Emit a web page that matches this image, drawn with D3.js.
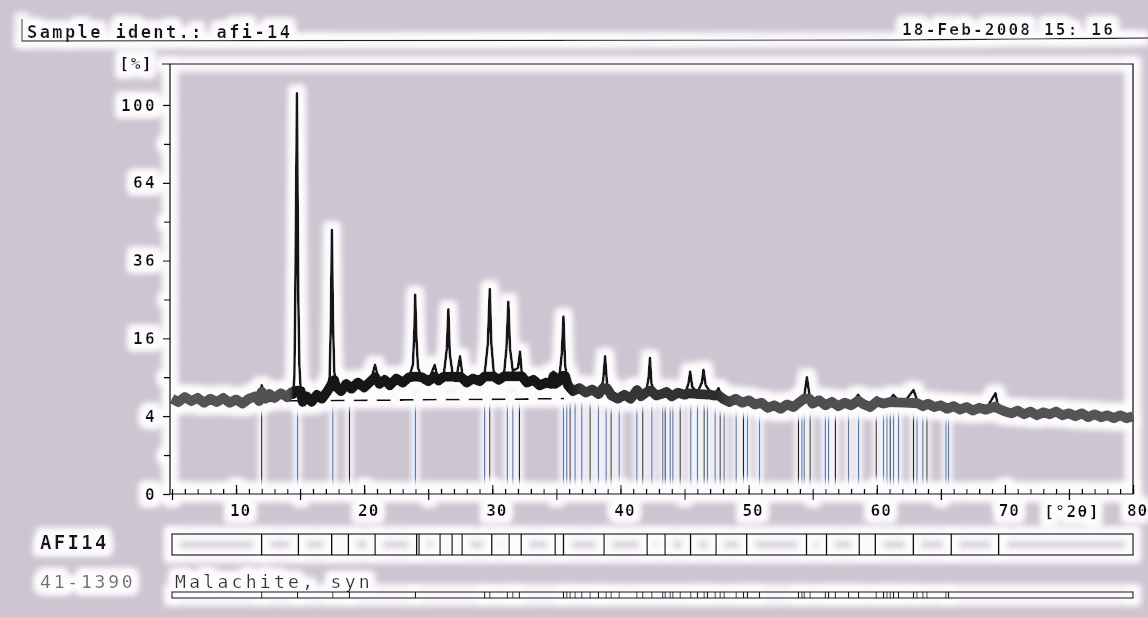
<!DOCTYPE html>
<html>
<head>
<meta charset="utf-8">
<script src="https://cdn.jsdelivr.net/npm/d3@7"></script>
<style>
  body { margin: 0; background: #cdc6d2; overflow: hidden; }
  text { font-family: "DejaVu Sans Mono", monospace; }
</style>
</head>
<body>
<script>
// measured scan, [2theta in deg, intensity in %]
const scan = [
  [5.0, 6.0], [5.5, 5.6], [6.0, 6.2], [6.5, 5.7], [7.0, 6.1], [7.5, 5.5], [8.0, 6.0], [8.5, 5.6],
  [9.0, 6.1], [9.5, 5.5], [10.0, 5.9], [10.5, 5.4], [11.0, 6.0], [11.5, 6.3], [11.8, 5.7], [12.0, 7.8],
  [12.3, 6.0], [12.6, 6.6], [13.0, 6.1], [13.5, 6.7], [14.0, 6.2], [14.3, 6.8], [14.45, 6.6],
  [14.55, 9], [14.62, 25], [14.69, 60], [14.75, 106], [14.8, 60], [14.86, 25], [14.94, 11], [15.05, 7],
  [15.2, 5.6], [15.5, 6.3], [15.9, 5.6], [16.3, 6.5], [16.7, 6.0], [17.1, 6.9],
  [17.3, 9], [17.4, 20], [17.48, 46], [17.56, 20], [17.66, 10], [17.8, 7.6],
  [18.2, 7.0], [18.6, 8.0], [19.0, 7.3], [19.5, 8.2], [20.0, 7.5], [20.5, 8.4], [20.85, 11],
  [21.2, 8.0], [21.6, 8.6], [22.0, 7.8], [22.5, 8.8], [23.0, 8.2], [23.5, 9.0],
  [23.8, 11], [23.92, 18], [23.98, 26.2], [24.06, 17], [24.2, 10.5], [24.5, 9.0], [25.0, 8.4],
  [25.5, 11], [25.8, 8.5], [26.2, 9.2], [26.45, 14], [26.57, 22.5], [26.68, 13], [26.9, 9.5],
  [27.2, 9.0], [27.48, 12.5], [27.7, 8.8], [28.0, 8.2], [28.5, 8.8], [29.0, 8.4], [29.4, 9.5],
  [29.65, 15], [29.8, 27.7], [29.92, 15], [30.1, 10], [30.5, 8.6], [30.9, 9.2],
  [31.1, 14], [31.25, 24.4], [31.38, 14], [31.6, 10], [32.0, 10.5], [32.16, 13.4], [32.3, 9.6],
  [32.7, 8.2], [33.2, 8.6], [33.7, 7.8], [34.2, 8.2], [34.6, 8.0], [34.77, 9.9], [34.9, 8.0],
  [35.2, 8.4], [35.42, 13], [35.55, 20.8], [35.68, 11], [35.9, 7.8], [36.3, 7.0], [36.8, 7.4],
  [37.3, 6.8], [37.8, 7.2], [38.3, 6.6], [38.65, 8.5], [38.8, 12.5], [38.95, 8.0], [39.3, 6.4],
  [39.8, 6.0], [40.3, 6.5], [40.8, 6.0], [41.28, 7.6], [41.6, 6.3], [42.0, 6.8], [42.2, 9.0],
  [42.3, 12.2], [42.42, 8.0], [42.8, 6.4], [43.2, 6.6], [43.6, 7.4], [44.0, 6.3], [44.5, 6.8],
  [45.0, 6.5], [45.3, 8.0], [45.44, 9.9], [45.6, 7.6], [46.0, 6.8], [46.35, 8.2], [46.48, 10.2],
  [46.65, 7.8], [47.0, 6.9], [47.3, 6.4], [47.65, 7.4], [48.0, 6.0], [48.5, 5.6], [49.0, 6.0],
  [49.5, 5.5], [50.0, 5.8], [50.5, 5.3], [51.0, 5.5], [51.5, 4.9], [52.0, 5.2], [52.5, 4.8],
  [53.0, 5.3], [53.5, 5.0], [54.0, 5.6], [54.35, 6.4], [54.55, 9.0], [54.75, 6.5], [55.0, 5.4],
  [55.5, 5.8], [56.0, 5.2], [56.5, 5.6], [57.0, 5.1], [57.5, 5.5], [58.0, 5.2], [58.55, 6.5],
  [59.0, 5.3], [59.5, 5.0], [60.0, 6.2], [60.5, 5.4], [61.0, 5.8], [61.3, 6.5], [61.8, 5.6],
  [62.3, 5.9], [62.87, 7.15], [63.2, 5.6], [63.6, 5.1], [64.0, 5.4], [64.5, 5.0], [65.0, 5.2],
  [65.5, 4.8], [66.0, 5.1], [66.5, 4.7], [67.0, 5.0], [67.5, 4.6], [68.0, 4.9], [68.5, 4.7],
  [69.27, 6.7], [69.5, 4.8], [70.0, 4.5], [70.5, 4.3], [71.0, 4.6], [71.5, 4.2], [72.0, 4.5],
  [72.5, 4.1], [73.0, 4.4], [73.5, 4.2], [74.0, 4.5], [74.5, 4.1], [75.0, 4.3], [75.5, 4.0],
  [76.0, 4.3], [76.5, 3.9], [77.0, 4.2], [77.5, 3.9], [78.0, 4.1], [78.5, 3.8], [79.0, 4.1],
  [79.5, 3.8], [80.0, 4.0]
];

// dashed background line
const background = [[12.0, 5.7], [35.6, 6.0]];

// 41-1390 malachite reference lines (2theta)
const refSticks = [12.0, 14.8, 17.55, 18.85, 24.0, 29.4, 29.8, 31.17, 31.6, 32.11, 35.55, 35.81,
  36.07, 36.46, 36.98, 37.63, 38.28, 38.88, 39.27, 39.9, 41.28, 41.74, 42.45, 43.3, 43.49, 43.88,
  44.09, 44.66, 45.49, 46.01, 46.53, 46.79, 47.39, 47.78, 48.09, 49.03, 49.6, 49.91, 50.85, 53.89,
  54.16, 54.34, 54.8, 55.99, 56.24, 56.77, 57.8, 58.58, 59.96, 60.53, 60.8, 61.05, 61.31, 61.7,
  62.87, 63.14, 63.6, 63.92, 65.4, 65.6];
const stickTop = 5.6;

// AFI14 peak markers
const sampleMarks = [12.0, 14.86, 17.47, 18.76, 20.85, 24.1, 24.28, 25.92, 26.86, 27.64, 29.96,
  31.31, 32.25, 34.9, 35.55, 38.72, 42.08, 43.48, 45.47, 47.46, 49.86, 54.52, 56.08, 58.63, 59.88,
  62.85, 65.81, 69.52];

const yTicks = [0, 4, 16, 36, 64, 100];
const yMinor = [1, 9, 25, 49, 81];
const xLabels = [10, 20, 30, 40, 50, 60, 70, 80];

const sampleIdent = "Sample ident.: afi-14";
const dateText = "18-Feb-2008 15: 16";
const sampleName = "AFI14";
const cardNo = "41-1390";
const cardName = "Malachite, syn";

const width = 1148;
const height = 617;

const x = d3.scaleLinear().domain([5, 80]).range([172, 1133]);
const y = d3.scaleSqrt().domain([0, 121]).range([494, 66]);
const plotTop = 64, plotLeft = 170;

// height up to which the trace is drawn as a thick noisy band
const bandCap = d3.scaleLinear()
    .domain([5, 14.3, 17.2, 17.8, 36, 37, 48, 56, 70, 80])
    .range([6.6, 7.0, 7.2, 9.0, 9.2, 7.6, 6.4, 5.9, 5.0, 4.5]);

const svg = d3.select("body").append("svg")
    .attr("width", width).attr("height", height);

const defs = svg.append("defs");
function halo(id, r, blur, op) {
    const f = defs.append("filter").attr("id", id)
        .attr("filterUnits", "userSpaceOnUse")
        .attr("x", 0).attr("y", 0).attr("width", width).attr("height", height);
    f.append("feMorphology").attr("in", "SourceAlpha").attr("operator", "dilate")
        .attr("radius", r).attr("result", "fat");
    f.append("feGaussianBlur").attr("in", "fat").attr("stdDeviation", blur).attr("result", "soft");
    f.append("feFlood").attr("flood-color", "#fdfbfd").attr("flood-opacity", op);
    f.append("feComposite").attr("in2", "soft").attr("operator", "in").attr("result", "glow");
    const m = f.append("feMerge");
    m.append("feMergeNode").attr("in", "glow");
    m.append("feMergeNode").attr("in", "glow");
    m.append("feMergeNode").attr("in", "SourceGraphic");
}
halo("halo", 6, 3, 1);
halo("halo2", 3, 2.5, 0.6);

const grad = defs.append("linearGradient").attr("id", "inkGrad")
    .attr("gradientUnits", "userSpaceOnUse")
    .attr("x1", x(5)).attr("x2", x(80)).attr("y1", 0).attr("y2", 0);
[[5, "#555"], [14.2, "#505050"], [14.5, "#151515"], [35.8, "#151515"], [37, "#3a3a3a"],
 [47.5, "#2c2c2c"], [49, "#4d4d4d"], [80, "#555"]].forEach(s => {
    grad.append("stop").attr("offset", (s[0] - 5) / 75).attr("stop-color", s[1]);
});

// reference sticks
svg.append("g").attr("filter", "url(#halo2)")
    .selectAll("line").data(refSticks).join("line")
    .attr("x1", d => x(d)).attr("x2", d => x(d))
    .attr("y1", y(0)).attr("y2", y(stickTop))
    .attr("stroke", (d, i) => i % 3 === 0 ? "#222" : "#4d7cbd")
    .attr("stroke-width", 1.3);

const ink = svg.append("g").attr("filter", "url(#halo)");

// header
ink.append("text").attr("x", 27).attr("y", 38)
    .attr("font-size", 17).attr("font-weight", "bold").attr("fill", "#151515")
    .style("letter-spacing", "2.4px").text(sampleIdent);
ink.append("text").attr("x", 902).attr("y", 35)
    .attr("font-size", 16).attr("font-weight", "bold").attr("fill", "#151515")
    .style("letter-spacing", "2.2px").text(dateText);
ink.append("path").attr("d", "M22,19V41L900,40L1148,38")
    .attr("fill", "none").attr("stroke", "#222").attr("stroke-width", 1.3);

// frame
ink.append("path")
    .attr("d", `M162,${plotTop}H${x(80)}V${y(0)}H${plotLeft}V${plotTop}`)
    .attr("fill", "none").attr("stroke", "#111").attr("stroke-width", 1.7);

// x axis
const axisFont = g => g.attr("font-family", "DejaVu Sans Mono").attr("font-weight", "bold")
    .attr("font-size", 16).attr("color", "#111");
ink.append("g").attr("transform", `translate(0,${y(0)})`)
    .call(d3.axisTop(x).tickValues(d3.range(5, 81)).tickSize(5).tickFormat(""))
    .call(g => g.select(".domain").remove())
    .selectAll("line").attr("stroke-width", 1.5);
ink.append("g").attr("transform", `translate(0,${y(0)})`)
    .call(d3.axisTop(x).tickValues(xLabels).tickSize(9).tickFormat(""))
    .call(g => g.select(".domain").remove())
    .selectAll("line").attr("stroke-width", 1.5);
ink.append("g").attr("transform", `translate(0,${y(0)})`)
    .call(d3.axisBottom(x).tickValues(d3.range(5, 80, 10)).tickSize(6).tickFormat(""))
    .call(g => g.select(".domain").remove())
    .selectAll("line").attr("stroke-width", 1.5);
ink.append("g").attr("transform", `translate(0,${y(0)})`)
    .call(d3.axisBottom(x).tickValues(xLabels).tickSize(0).tickPadding(11).tickFormat(d3.format("d")))
    .call(axisFont)
    .call(g => g.select(".domain").remove())
    .selectAll("text").attr("dx", 4).style("letter-spacing", "1px");
ink.append("text").attr("x", 1072).attr("y", 517).attr("text-anchor", "middle")
    .attr("font-size", 16).attr("font-weight", "bold").attr("fill", "#111")
    .style("letter-spacing", "1.5px").text("[°2θ]");

// y axis (square-root scale)
ink.append("g").attr("transform", `translate(${plotLeft},0)`)
    .call(d3.axisLeft(y).tickValues(yTicks).tickSize(7).tickPadding(8))
    .call(axisFont)
    .call(g => g.select(".domain").remove())
    .call(g => g.selectAll("line").attr("stroke-width", 1.5))
    .selectAll("text").style("letter-spacing", "2.4px").attr("dx", 2);
ink.append("g").attr("transform", `translate(${plotLeft},0)`)
    .call(d3.axisLeft(y).tickValues(yMinor).tickSize(6).tickFormat(""))
    .call(g => g.select(".domain").remove())
    .selectAll("line").attr("stroke-width", 1.5);
ink.append("text").attr("x", 153).attr("y", 69).attr("text-anchor", "end")
    .attr("font-size", 16).attr("font-weight", "bold").attr("fill", "#111")
    .style("letter-spacing", "1.5px").text("[%]");

// dashed background
ink.append("path").datum(background)
    .attr("d", d3.line().x(d => x(d[0])).y(d => y(d[1])))
    .attr("fill", "none").attr("stroke", "#111").attr("stroke-width", 1.8)
    .attr("stroke-dasharray", "14,9");

// scan: thin black trace for the peaks, thick noisy band over its base
ink.append("path").datum(scan)
    .attr("d", d3.line().x(d => x(d[0])).y(d => y(d[1])))
    .attr("fill", "none").attr("stroke", "#151515").attr("stroke-width", 2.7)
    .attr("stroke-linejoin", "round");
ink.append("path").datum(scan)
    .attr("d", d3.line().x(d => x(d[0])).y(d => y(Math.min(d[1], bandCap(d[0])))))
    .attr("fill", "none").attr("stroke", "url(#inkGrad)").attr("stroke-width", 10)
    .attr("stroke-linejoin", "round").attr("stroke-linecap", "butt");

// AFI14 marker box
ink.append("text").attr("x", 40).attr("y", 549)
    .attr("font-size", 19).attr("font-weight", "bold").attr("fill", "#151515")
    .style("letter-spacing", "2.3px").text(sampleName);
ink.append("rect").attr("x", x(5)).attr("y", 534)
    .attr("width", x(80) - x(5)).attr("height", 21)
    .attr("fill", "none").attr("stroke", "#111").attr("stroke-width", 1.6);
ink.append("g").selectAll("line").data(sampleMarks).join("line")
    .attr("x1", d => x(d)).attr("x2", d => x(d))
    .attr("y1", 534).attr("y2", 555)
    .attr("stroke", "#111").attr("stroke-width", 1.6);

// 41-1390 card strip
ink.append("text").attr("x", 40).attr("y", 588)
    .attr("font-size", 18).attr("fill", "#707070")
    .style("letter-spacing", "2.8px").text(cardNo);
ink.append("text").attr("x", 175).attr("y", 588)
    .attr("font-size", 18).attr("fill", "#333")
    .style("letter-spacing", "3.3px").text(cardName);
ink.append("rect").attr("x", x(5)).attr("y", 592)
    .attr("width", x(80) - x(5)).attr("height", 6)
    .attr("fill", "none").attr("stroke", "#1a1a1a").attr("stroke-width", 1.5);
ink.append("g").selectAll("line").data(refSticks).join("line")
    .attr("x1", d => x(d)).attr("x2", d => x(d))
    .attr("y1", 592).attr("y2", 598)
    .attr("stroke", "#1a1a1a").attr("stroke-width", 1.2);
</script>
</body>
</html>
